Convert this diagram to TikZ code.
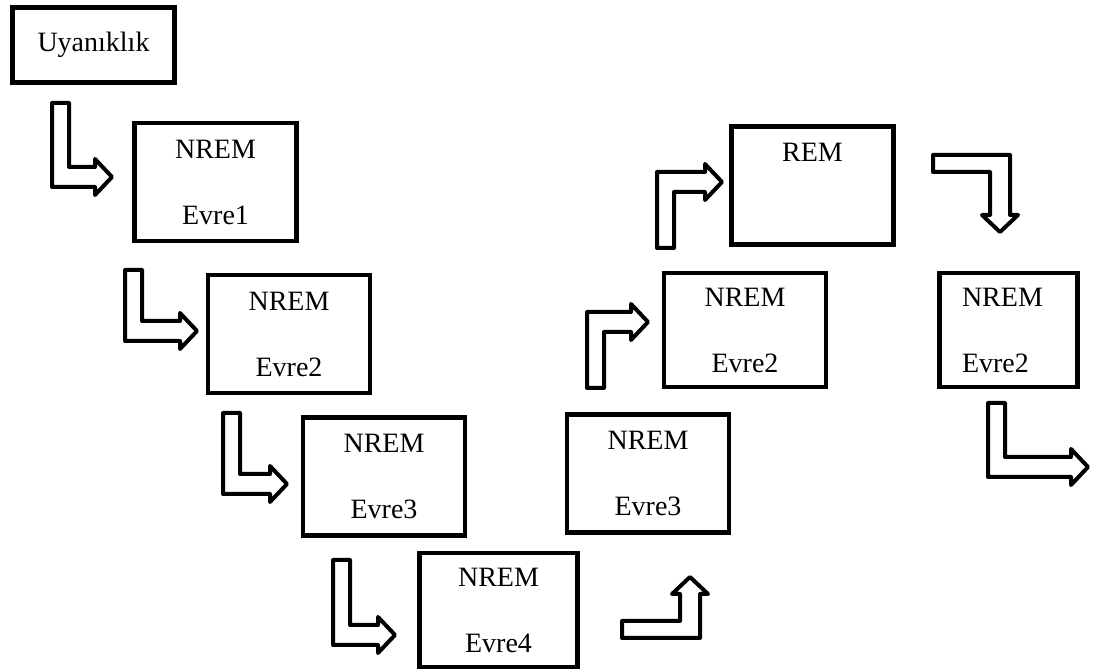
\documentclass[tikz,border=0pt]{standalone}
\usepackage{fontspec}
\setmainfont{Liberation Serif}
\tikzset{
    stage/.style={draw, line width=2.4pt, minimum width=81pt, minimum height=59pt,
        inner sep=0pt, align=center, font=\fontsize{14}{17}\selectfont},
    blockarrow/.style={draw, line width=2pt, line join=round},
    pics/bent/.style 2 args={code={
        \draw[blockarrow] (0,0) -- (17,0) -- (17,#1-20) -- (#2-17,#1-20)
            -- (#2-17,#1-28) -- (#2,#1-10) -- (#2-17,#1+8) -- (#2-17,#1)
            -- (0,#1) -- cycle;
    }}
}

\begin{document}
\begin{tikzpicture}[x=0.5pt, y=-0.5pt]
    \useasboundingbox (0,0) rectangle (1105,672);
    % sleep stages
    \node[stage, minimum height=37.5pt] (wake) at (93.5,45) {Uyanıklık};
    \node[stage] (n1) at (215.5,182) {NREM\\[16pt]Evre1};
    \node[stage] (n2) at (289,334) {NREM\\[16pt]Evre2};
    \node[stage] (n3) at (384,476.5) {NREM\\[16pt]Evre3};
    \node[stage, minimum width=79pt, minimum height=57pt] (n4) at (498.5,610) {NREM\\[16pt]Evre4};
    \node[stage] (n5) at (648,473.5) {NREM\\[16pt]Evre3};
    \node[stage, minimum height=57pt] (n6) at (745,330) {NREM\\[16pt]Evre2};
    \node[stage] (rem) at (812.5,185.5) {REM\\[16pt]\mbox{}};
    \node[stage, minimum width=69pt, minimum height=57pt, inner xsep=11.25pt,
        text width=46.5pt, align=left] (n7) at (1008.5,330) {NREM\\[16pt]Evre2};
    % bent block arrows
    \pic at (52,103) {bent={84}{60}};
    \pic at (125,270) {bent={71}{72}};
    \pic at (223,413) {bent={81}{64}};
    \pic at (333,560) {bent={85}{62}};
    \pic[rotate=90] at (622,638) {bent={78}{61}};
    \pic[yscale=-1] at (587,388) {bent={76}{61}};
    \pic[yscale=-1] at (657,248) {bent={76}{65}};
    \pic[rotate=90, xscale=-1] at (933,155) {bent={77}{77}};
    \pic at (988,403) {bent={74}{100}};
\end{tikzpicture}
\end{document}
